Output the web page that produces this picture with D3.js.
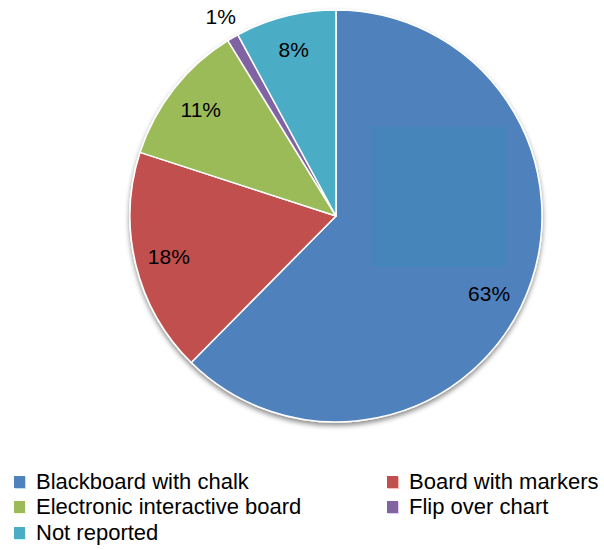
<!DOCTYPE html>
<html>
<head>
<meta charset="utf-8">
<script src="https://cdn.jsdelivr.net/npm/d3@7/dist/d3.min.js"></script>
<style>
  html, body { margin: 0; padding: 0; background: #fff; }
  svg { display: block; }
</style>
</head>
<body>
<svg id="chart" width="604" height="550"></svg>
<script>
// ---- data ----
const categories = ["Blackboard with chalk", "Board with markers", "Electronic interactive board", "Flip over chart", "Not reported"];
const values = [62.4, 17.6, 11.2, 0.9, 7.9];
const labels = ["63%", "18%", "11%", "1%", "8%"];
const colors = ["#4f81bd", "#c0504d", "#9bbb59", "#8064a2", "#4bacc6"];

// ---- layout ----
const cx = 336, cy = 216, R = 206;
const svg = d3.select("#chart");
const font = "'Liberation Sans', Arial, sans-serif";

const defs = svg.append("defs");
const f = defs.append("filter").attr("id", "shadow")
  .attr("x", "-10%").attr("y", "-10%").attr("width", "120%").attr("height", "125%");
f.append("feDropShadow").attr("dx", 0).attr("dy", 3).attr("stdDeviation", 2.5)
  .attr("flood-color", "#000").attr("flood-opacity", 0.45);

const pie = d3.pie().sort(null).value(d => d)(values);
const arc = d3.arc().innerRadius(0).outerRadius(R);

const g = svg.append("g").attr("transform", `translate(${cx},${cy})`);
const slices = g.append("g").attr("filter", "url(#shadow)");
slices.selectAll("path").data(pie).join("path")
  .attr("d", arc)
  .attr("fill", (d, i) => colors[i])
  .attr("stroke", "#fff")
  .attr("stroke-width", 1.5)
  .attr("stroke-linejoin", "round");

// faint rectangular artifact inside the big slice
g.append("rect")
  .attr("x", 372 - cx).attr("y", 127 - cy)
  .attr("width", 134).attr("height", 140)
  .attr("fill", "#4585b9").attr("opacity", 0.9);

// labels
const inner = d3.arc().innerRadius(172).outerRadius(172);
const outer = d3.arc().innerRadius(230).outerRadius(230);
g.selectAll("text.lbl").data(pie).join("text")
  .attr("class", "lbl")
  .attr("transform", (d, i) => {
    const c = (d.endAngle - d.startAngle) < 0.1 ? outer.centroid(d) : inner.centroid(d);
    if (i === 0) { c[0] -= 6; c[1] += 12; }
    return `translate(${c[0]},${c[1]})`;
  })
  .attr("text-anchor", "middle")
  .attr("dy", "0.36em")
  .attr("font-family", font)
  .attr("font-size", 21)
  .attr("fill", "#000")
  .text((d, i) => labels[i]);

// legend
const colX = [14, 387];
const rowY = [489, 514, 540];
const leg = svg.append("g");
categories.forEach((c, i) => {
  const col = i % 2, row = Math.floor(i / 2);
  const x = colX[col], y = rowY[row];
  leg.append("rect").attr("x", x + 1).attr("y", y - 12).attr("width", 11).attr("height", 12)
    .attr("fill", d3.color(colors[i]).brighter(1.2)).attr("opacity", 0.5);
  leg.append("rect").attr("x", x).attr("y", y - 13).attr("width", 11).attr("height", 12)
    .attr("fill", colors[i]);
  leg.append("text").attr("x", x + 22).attr("y", y)
    .attr("font-family", font).attr("font-size", 22)
    .attr("fill", "#000").text(c);
});
</script>
</body>
</html>
